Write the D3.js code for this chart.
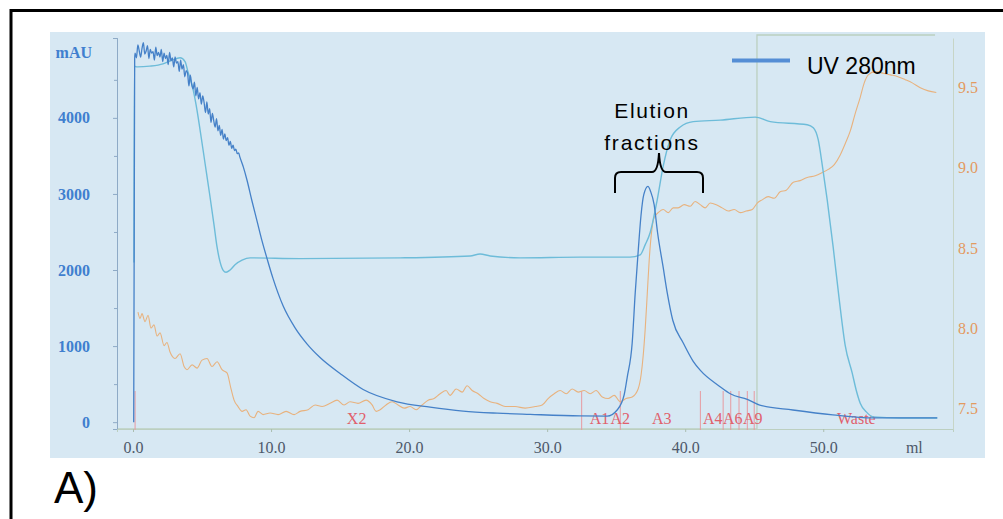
<!DOCTYPE html>
<html>
<head>
<meta charset="utf-8">
<script src="https://cdn.jsdelivr.net/npm/d3@7"></script>
<style>
body { margin: 0; background: #fff; }
svg { display: block; }
</style>
</head>
<body>
<svg id="chart" width="1003" height="519"></svg>
<script>
// ---- data (ml, value) ----
var uvPoints = [
  [0.05, 0], [0.12, 4780], [0.15, 4850], [0.25, 4790], [0.35, 4960], [0.45, 4880], [0.55, 4800],
  [0.65, 4910], [0.75, 4990], [0.85, 4840], [0.95, 4880], [1.05, 4950], [1.15, 4780], [1.25, 4900],
  [1.35, 4850], [1.45, 4870], [1.55, 4760], [1.65, 4930], [1.75, 4820], [1.85, 4860], [1.95, 4800],
  [2.05, 4900], [2.15, 4740], [2.25, 4850], [2.35, 4780], [2.45, 4820], [2.55, 4700], [2.65, 4860],
  [2.75, 4750], [2.85, 4790], [2.95, 4670], [3.05, 4800], [3.15, 4720], [3.25, 4740], [3.35, 4610],
  [3.45, 4760], [3.55, 4640], [3.65, 4700], [3.75, 4540], [3.85, 4620], [3.95, 4590], [4.05, 4420],
  [4.15, 4560], [4.25, 4440], [4.35, 4380], [4.45, 4470], [4.55, 4290], [4.65, 4400], [4.75, 4250],
  [4.85, 4330], [4.95, 4180], [5.05, 4290], [5.15, 4200], [5.25, 4070], [5.35, 4210], [5.45, 4050],
  [5.55, 4120], [5.65, 3940], [5.75, 4060], [5.85, 3960], [5.95, 3880], [6.05, 3990], [6.15, 3830],
  [6.25, 3900], [6.35, 3770], [6.45, 3850], [6.55, 3720], [6.65, 3790], [6.75, 3700], [6.85, 3740],
  [6.95, 3640], [7.05, 3690], [7.15, 3600], [7.25, 3640], [7.35, 3570], [7.45, 3590], [7.55, 3530],
  [7.65, 3540], [7.75, 3480], [8.0, 3350], [8.26, 3180], [8.6, 2920], [8.99, 2640], [9.35, 2380],
  [9.71, 2150], [10.14, 1890], [10.87, 1530], [11.74, 1240], [12.6, 1030], [13.55, 850], [15.0, 640],
  [16.67, 430], [19.13, 268], [21.52, 197], [23.91, 145], [26.38, 118], [28.77, 102], [32.39, 82],
  [34.35, 79], [35.07, 160], [35.58, 360], [35.8, 590], [36.16, 1040], [36.38, 1700], [36.6, 2260],
  [36.8, 2720], [37.0, 2990], [37.3, 3100], [37.5, 3030], [37.75, 2860], [38.0, 2490], [38.4, 2040],
  [38.7, 1700], [39.1, 1340], [39.86, 1040], [40.58, 800], [41.1, 680], [42.5, 470], [43.3, 370],
  [44.5, 300], [45.4, 225], [47.8, 160], [50.7, 95], [53.6, 55], [58.26, 55]
];

var uv2Points = [
  [0.07, 2100], [0.1, 4680], [0.3, 4670], [1.22, 4680], [2.17, 4710], [2.83, 4760], [3.41, 4790],
  [3.77, 4740], [3.99, 4600], [4.28, 4430], [4.57, 4170], [4.86, 3840], [5.22, 3400], [5.58, 2960],
  [5.87, 2590], [6.09, 2300], [6.3, 2110], [6.52, 2000], [6.74, 1970], [7.03, 2000], [7.39, 2070],
  [7.9, 2130], [8.48, 2160], [12.1, 2150], [19.35, 2160], [24.42, 2185], [25.14, 2210], [25.87, 2185],
  [28.04, 2160], [32.39, 2170], [36.0, 2170], [36.74, 2200], [37.1, 2330], [37.46, 2490], [37.97, 2920],
  [38.4, 3360], [38.91, 3710], [39.64, 3880], [40.58, 3950], [42.54, 3970], [45.07, 4010], [46.16, 3950],
  [48.84, 3910], [49.28, 3870], [49.64, 3710], [49.93, 3380], [50.29, 2920], [50.72, 2300], [51.16, 1610],
  [51.59, 1010], [52.1, 645], [52.39, 420], [52.68, 250], [53.12, 135], [53.62, 70], [55.58, 55], [58.26, 55]
];

var phPoints = [
  [0.36, 8.10], [0.51, 8.06], [0.65, 8.09], [0.87, 8.04], [1.09, 8.08], [1.3, 8.0], [1.52, 8.02],
  [1.74, 7.95], [1.96, 7.97], [2.25, 7.89], [2.46, 7.91], [2.68, 7.85], [3.04, 7.81], [3.41, 7.84],
  [3.7, 7.76], [3.91, 7.74], [4.28, 7.77], [4.64, 7.75], [5.0, 7.80], [5.36, 7.81], [5.72, 7.76],
  [6.09, 7.79], [6.45, 7.74], [6.81, 7.72], [7.1, 7.62], [7.32, 7.55], [7.61, 7.51], [7.9, 7.48],
  [8.19, 7.49], [8.48, 7.45], [8.77, 7.44], [9.06, 7.48], [9.42, 7.46], [9.93, 7.47], [10.51, 7.46],
  [11.09, 7.48], [11.67, 7.46], [12.1, 7.48], [12.68, 7.49], [13.19, 7.52], [13.7, 7.51], [14.28, 7.53],
  [14.78, 7.55], [15.29, 7.52], [15.72, 7.54], [16.3, 7.53], [16.88, 7.55], [17.32, 7.52], [17.61, 7.48],
  [17.9, 7.49], [18.33, 7.52], [18.77, 7.54], [19.2, 7.52], [19.64, 7.50], [20.07, 7.51], [20.51, 7.49],
  [20.94, 7.52], [21.38, 7.55], [21.81, 7.56], [22.25, 7.59], [22.68, 7.61], [22.97, 7.58], [23.41, 7.62],
  [23.84, 7.60], [24.2, 7.64], [24.57, 7.61], [25.0, 7.59], [25.43, 7.56], [25.87, 7.54], [26.38, 7.53],
  [26.96, 7.51], [27.68, 7.51], [28.41, 7.50], [29.13, 7.51], [29.64, 7.52], [30.07, 7.56], [30.51, 7.59],
  [30.94, 7.61], [31.38, 7.59], [31.81, 7.62], [32.25, 7.60], [32.68, 7.61], [33.12, 7.59], [33.55, 7.61],
  [33.99, 7.57], [34.42, 7.56], [34.86, 7.58], [35.29, 7.54], [35.72, 7.56], [36.16, 7.57], [36.59, 7.62],
  [36.81, 7.71], [36.96, 7.83], [37.1, 7.99], [37.25, 8.21], [37.39, 8.42], [37.54, 8.58], [37.75, 8.69],
  [38.04, 8.72], [38.41, 8.74], [38.77, 8.72], [39.13, 8.75], [39.49, 8.75], [39.93, 8.77], [40.36, 8.76],
  [40.72, 8.79], [41.09, 8.77], [41.45, 8.75], [41.81, 8.78], [42.25, 8.77], [42.68, 8.75], [43.12, 8.73],
  [43.55, 8.74], [43.99, 8.72], [44.42, 8.73], [44.86, 8.74], [45.22, 8.78], [45.58, 8.80], [46.01, 8.82],
  [46.45, 8.81], [46.88, 8.85], [47.32, 8.86], [47.83, 8.91], [48.33, 8.92], [48.84, 8.94], [49.42, 8.95],
  [49.93, 8.97], [50.36, 8.99], [50.8, 9.02], [51.23, 9.08], [51.59, 9.15], [51.96, 9.23], [52.32, 9.34],
  [52.68, 9.44], [52.97, 9.53], [53.26, 9.58], [53.77, 9.60], [54.35, 9.59], [54.86, 9.58], [55.36, 9.57],
  [55.94, 9.55], [56.45, 9.53], [57.03, 9.50], [57.61, 9.48], [58.19, 9.47]
];

// concentration step (%B)
var concPoints = [[-1.16, 0], [45.2, 0], [45.2, 100], [58.1, 100]];

// fraction marks (ml) and labels (ml, text)
var fractionMarks = [0.15, 32.5, 35.3, 41.1, 42.75, 43.3, 43.9, 44.5, 45.0];
var fractionLabels = [
  [16.2, "X2"], [33.8, "A1"], [35.3, "A2"], [38.3, "A3"], [42.0, "A4"],
  [43.45, "A6"], [44.9, "A9"], [52.4, "Waste"]
];

var xTicks = [0, 10, 20, 30, 40, 50];
var mauTicks = [0, 1000, 2000, 3000, 4000];
var mauMinor = [500, 1500, 2500, 3500, 4500];
var phTicks = [7.5, 8.0, 8.5, 9.0, 9.5];

// ---- layout ----
var svg = d3.select("#chart");
var plotLeft = 117, plotRight = 953, plotTop = 38, plotBottom = 429;

var x = d3.scaleLinear().domain([-1.16, 59.4]).range([plotLeft, plotRight]);
var yL = d3.scaleLinear().domain([-90, 5050]).range([plotBottom, plotTop]);
var yR = d3.scaleLinear().domain([7.37, 9.81]).range([plotBottom, plotTop]);
var yC = d3.scaleLinear().domain([0, 100]).range([plotBottom, 35]);

// frame + scanned background
svg.append("rect").attr("x", 11).attr("y", 10.5).attr("width", 1010).attr("height", 530)
  .attr("fill", "#fff").attr("stroke", "#000").attr("stroke-width", 3);
svg.append("rect").attr("x", 50).attr("y", 32).attr("width", 935).attr("height", 426)
  .attr("fill", "#d7e8f3");

var serif = "'Liberation Serif', 'DejaVu Serif', serif";

// concentration line (also the baseline)
var concLine = d3.line().x(function(d) { return x(d[0]); }).y(function(d) { return yC(d[1]); });
svg.append("path").datum(concPoints).attr("d", concLine)
  .attr("fill", "none").attr("stroke", "#bccfc0").attr("stroke-width", 1.3);

// left axis
var gL = svg.append("g").attr("transform", "translate(" + plotLeft + ",0)");
gL.call(d3.axisLeft(yL).tickValues(mauMinor).tickSize(3).tickFormat(""));
gL.append("g").call(d3.axisLeft(yL).tickValues(mauTicks).tickSize(4).tickPadding(23).tickFormat(d3.format("d")));
gL.selectAll("path.domain, line").attr("stroke", "#8eaac6");
gL.selectAll("text").attr("fill", "#3f7fcf").style("font-family", serif)
  .style("font-size", "16px").style("font-weight", "bold");
svg.append("text").attr("x", 92).attr("y", 58).attr("text-anchor", "end")
  .attr("fill", "#3f7fcf").style("font-family", serif).style("font-size", "16px")
  .style("font-weight", "bold").text("mAU");

// right axis
var gR = svg.append("g").attr("transform", "translate(" + plotRight + ",0)");
gR.call(d3.axisRight(yR).tickValues(phTicks).tickSize(0).tickPadding(5).tickFormat(d3.format(".1f")));
gR.select("path.domain").attr("stroke", "#c7d5c6");
gR.selectAll("text").attr("fill", "#e39a60").style("font-family", serif).style("font-size", "16px");

// bottom axis
var gB = svg.append("g").attr("transform", "translate(0," + plotBottom + ")");
gB.call(d3.axisBottom(x).tickValues(xTicks).tickSize(3).tickPadding(10).tickFormat(d3.format(".1f")));
gB.select("path.domain").attr("stroke", "#bccfc0");
gB.selectAll("line").attr("stroke", "#aabdb0");
gB.selectAll("text").attr("fill", "#4d5869").style("font-family", serif).style("font-size", "16px");
svg.append("text").attr("x", x(56.6)).attr("y", 453).attr("text-anchor", "middle")
  .attr("fill", "#4d5869").style("font-family", serif).style("font-size", "16px").text("ml");

// fraction marks and labels
svg.selectAll("line.frac").data(fractionMarks).enter().append("line")
  .attr("class", "frac")
  .attr("x1", function(d) { return x(d); }).attr("x2", function(d) { return x(d); })
  .attr("y1", plotBottom - 38).attr("y2", plotBottom + 1)
  .attr("stroke", "#e79aa0").attr("stroke-width", 1);
svg.selectAll("text.frac").data(fractionLabels).enter().append("text")
  .attr("class", "frac")
  .attr("x", function(d) { return x(d[0]); }).attr("y", 424)
  .attr("text-anchor", "middle")
  .attr("fill", "#e0606c").style("font-family", serif).style("font-size", "16px")
  .text(function(d) { return d[1]; });

// traces
var phLine = d3.line().curve(d3.curveMonotoneX)
  .x(function(d) { return x(d[0]); }).y(function(d) { return yR(d[1]); });
var mauLine = d3.line().curve(d3.curveMonotoneX)
  .x(function(d) { return x(d[0]); }).y(function(d) { return yL(d[1]); });

svg.append("path").datum(phPoints).attr("d", phLine)
  .attr("fill", "none").attr("stroke", "#e8b27e").attr("stroke-width", 1.1);
svg.append("path").datum(uv2Points).attr("d", mauLine)
  .attr("fill", "none").attr("stroke", "#6dbcd9").attr("stroke-width", 1.4);
svg.append("path").datum(uvPoints).attr("d", mauLine)
  .attr("fill", "none").attr("stroke", "#4581c8").attr("stroke-width", 1.3);

// annotations
var sans = "'Liberation Sans', Arial, sans-serif";
svg.append("line").attr("x1", 732).attr("x2", 790).attr("y1", 60.5).attr("y2", 60.5)
  .attr("stroke", "#558ed5").attr("stroke-width", 4);
svg.append("text").attr("x", 807).attr("y", 74).attr("fill", "#000")
  .style("font-family", sans).style("font-size", "23px").text("UV 280nm");

svg.append("text").attr("x", 652).attr("y", 118).attr("text-anchor", "middle")
  .style("font-family", sans).style("font-size", "21px").style("letter-spacing", "1.6px").text("Elution");
svg.append("text").attr("x", 652).attr("y", 150).attr("text-anchor", "middle")
  .style("font-family", sans).style("font-size", "21px").style("letter-spacing", "1.8px").text("fractions");

// curly brace
svg.append("path")
  .attr("d", "M615,193 L615,178 Q615,172 621,172 L652,172 Q658,172 659,153 Q660,172 666,172 L697,172 Q703,172 703,178 L703,193")
  .attr("fill", "none").attr("stroke", "#000").attr("stroke-width", 2);

svg.append("text").attr("x", 54).attr("y", 503)
  .style("font-family", sans).style("font-size", "44px").text("A)");
</script>
</body>
</html>
